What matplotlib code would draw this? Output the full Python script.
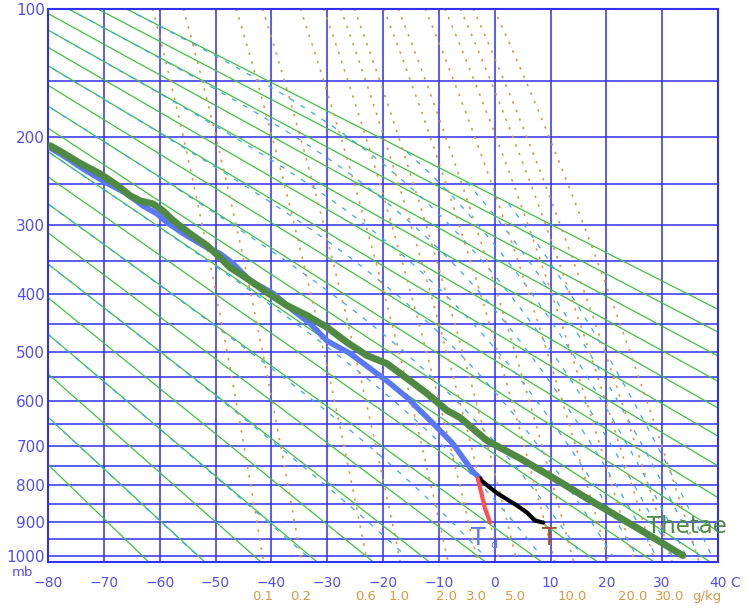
import numpy as np
import matplotlib
matplotlib.use("Agg")
import matplotlib.pyplot as plt
import matplotlib.transforms as mtransforms

K = 0.286  # Stuve: y axis linear in p**K

# sounding curves (p in mb, T in C)
thetae_p = [208.5, 213.8, 226.5, 238.1, 251.0, 263.2, 269.4, 273.0, 281.6, 293.9,
            311.0, 327.6, 344.2, 358.9, 371.1, 397.1, 418.6, 435.4, 456.0, 483.2,
            507.2, 522.9, 552.3, 583.4, 619.9, 635.4, 688.1, 730.6, 780.4, 834.1,
            888.8, 945.6, 1000.0]
thetae_t = [-79.6, -77.9, -74.3, -70.7, -67.6, -65.3, -63.5, -61.2, -59.4, -57.6,
            -54.6, -51.5, -49.2, -47.4, -45.1, -40.8, -37.2, -33.6, -30.0, -26.4,
            -22.9, -19.3, -15.7, -12.1, -8.5, -6.2, -1.4, 4.5, 10.5, 16.5,
            22.5, 28.4, 33.7]

upper_p = [210.6, 221.2, 232.8, 248.7, 260.8, 275.5, 285.3, 296.3, 311.0, 330.4,
           338.7, 352.8, 378.8, 398.6, 427.0, 448.8, 480.3, 503.3, 536.5, 562.7,
           591.7, 613.3, 648.7, 695.1, 719.8, 764.1, 782.2]
upper_t = [-79.6, -76.6, -73.7, -69.4, -65.9, -63.0, -60.5, -58.7, -55.8, -51.5,
           -49.2, -46.9, -43.8, -39.7, -36.1, -33.1, -30.0, -25.9, -21.8, -18.7,
           -15.7, -13.9, -11.0, -7.5, -6.2, -3.9, -2.6]

temp_p = [782.2, 787.0, 820.4, 854.0, 873.7, 896.3, 902.0]
temp_t = [-2.6, -2.4, 0.4, 4.0, 5.8, 7.2, 8.7]

dewp_p = [782.2, 820.0, 864.0, 902.0]
dewp_t = [-3.0, -2.4, -1.7, -0.8]

pres_ticks = [100, 200, 300, 400, 500, 600, 700, 800, 900, 1000]
pres_lines = list(range(100, 1001, 50))
temp_ticks = list(range(-80, 41, 10))
dry_thetas = list(range(210, 401, 10))
moist_thetaes = list(range(220, 461, 20))
mix_ratios = [0.1, 0.2, 0.6, 1, 2, 3, 4, 5, 8, 10, 15, 20, 25, 30, 40]
mix_labels = [0.1, 0.2, 0.6, 1.0, 2.0, 3.0, 5.0, 10.0, 20.0, 30.0]

P_BOT, P_TOP = 1020, 100
THETA_MAX = 400  # nothing but mixing ratio lines above this dry adiabat

GRID = "#3030f0"
TXT = "#5050f0"
ORANGE = "#d99a45"


def fwd(p):
    return np.power(np.clip(p, 1e-3, None), K)


def inv(s):
    return np.power(np.clip(s, 1e-9, None), 1.0 / K)


def sat_mixing(T, p):
    tc = T - 273.15
    es = 6.112 * np.exp(17.67 * tc / (tc + 243.5))
    return 0.622 * es / (p - es)


def lapse(T, p):
    rs = sat_mixing(T, p)
    L = 2.5e6
    return (287.04 * T + L * rs) / (p * (1004.0 + L * L * rs * 0.622 / (287.04 * T * T)))


def moist_lines(thetae, pp):
    T = np.array(thetae, float) * (pp[0] / 1000.0) ** K
    out = [T.copy()]
    for i in range(1, len(pp)):
        dp = pp[i] - pp[i - 1]
        k1 = lapse(T, pp[i - 1])
        k2 = lapse(T + dp * k1, pp[i])
        T = T + dp * (k1 + k2) / 2
        out.append(T.copy())
    return np.array(out)


def mix_td(w, pp):
    e = w * pp / (622.0 + w)
    a = np.log(e / 6.112)
    return 243.5 * a / (17.67 - a)


fig = plt.figure(figsize=(7.46, 6.10), dpi=100)
ax = fig.add_axes([48 / 746, 1 - 562 / 610, 670 / 746, 553.5 / 610])
ax.set_yscale("function", functions=(fwd, inv))
ax.set_xlim(-80, 40)
ax.set_ylim(P_BOT, P_TOP)

# background grid
for p in pres_lines:
    ax.axhline(p, color=GRID, lw=1.3, alpha=0.85, zorder=1)
for t in temp_ticks:
    ax.axvline(t, color=GRID, lw=1.3, alpha=0.85, zorder=1)
for s in ax.spines.values():
    s.set_color(GRID)
    s.set_linewidth(1.5)

pp = np.linspace(P_TOP, P_BOT, 120)

# dry adiabats
for th in dry_thetas:
    ax.plot(th * (pp / 1000.0) ** K - 273.15, pp, color="#3ec23e", lw=0.9, zorder=2)

# moist adiabats, cut where they pass the top dry adiabat
pm = np.linspace(100, 1000, 361)
ml = moist_lines(moist_thetaes, pm)
cap = THETA_MAX * (pm / 1000.0) ** K
for j in range(ml.shape[1]):
    tl = np.where(ml[:, j] <= cap + 0.01, ml[:, j] - 273.15, np.nan)
    ax.plot(tl, pm, color="#3aa8f0", lw=0.9, dashes=(4, 6), zorder=2)

# mixing ratio lines
for w in mix_ratios:
    ax.plot(mix_td(w, pp), pp, color=ORANGE, lw=1.2, dashes=(1.5, 4), zorder=2)

# sounding
ax.plot(upper_t, upper_p, color="#5a78f5", lw=4, solid_capstyle="round", zorder=5)
ax.plot(thetae_t, thetae_p, color="#4f8a42", lw=5, solid_capstyle="round", zorder=6)
ax.plot(temp_t, temp_p, color="black", lw=3, solid_capstyle="round", zorder=5)
ax.plot(dewp_t, dewp_p, color="#ff5050", lw=3, solid_capstyle="round", zorder=5)

ax.text(-3.0, 948, "T", color="#5a78f5", fontsize=17, ha="center", va="center", zorder=7)
ax.text(-0.7, 968, "d", color="#5a78f5", fontsize=8, ha="left", va="center", zorder=7)
ax.text(9.8, 948, "T", color="#a0522d", fontsize=17, ha="center", va="center", zorder=7)
ax.text(27.3, 913, "Thetae", color="#4f8a42", fontsize=16.5, ha="left", va="center", zorder=7)

# ticks
ax.set_yticks(pres_ticks)
ax.set_yticklabels([str(p) for p in pres_ticks], fontsize=11)
ax.set_yticks([], minor=True)
ax.set_xticks(temp_ticks)
ax.set_xticklabels([str(t).replace("-", "\u2212") for t in temp_ticks], fontsize=10)
ax.tick_params(axis="both", length=0, colors=TXT)
ax.tick_params(axis="y", pad=2)
ax.tick_params(axis="x", pad=10)

fig.text(22 / 746, 1 - 573 / 610, "mb", color=TXT, fontsize=9.5, ha="center", va="center")
fig.text(735 / 746, 1 - 583 / 610, "C", color=TXT, fontsize=10, ha="center", va="center")

trans = mtransforms.blended_transform_factory(ax.transData, ax.transAxes)
for w in mix_labels:
    ax.text(mix_td(w, 1000.0), -0.063, f"{w:.1f}", transform=trans, color=ORANGE,
            fontsize=9.5, ha="center", va="center", clip_on=False)
ax.text(38.0, -0.063, "g/kg", transform=trans, color=ORANGE, fontsize=9.5,
        ha="center", va="center", clip_on=False)

fig.savefig("out.png", dpi=100)
